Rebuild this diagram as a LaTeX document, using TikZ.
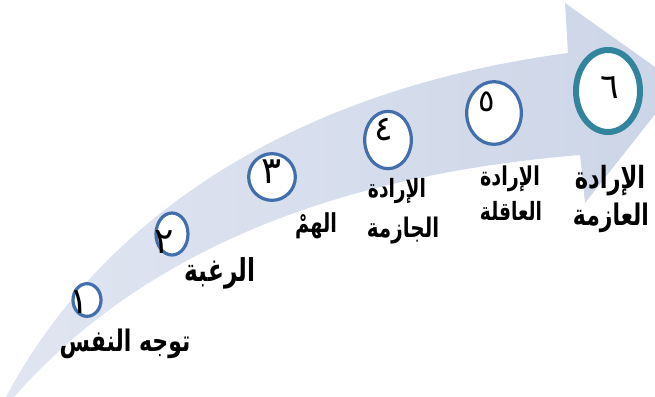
\documentclass[tikz,border=0pt]{standalone}
\usepackage{fontspec}
\usetikzlibrary{shapes.geometric}
\TeXXeTstate=1
\newfontfamily\arabicfont[Script=Arabic]{DejaVu Sans}
\newcommand\arword[1]{\scalebox{1}[1.35]{\beginR #1\endR}}
\definecolor{stepblue}{RGB}{66,110,172}
\definecolor{tealsix}{RGB}{49,132,155}
\definecolor{bandl}{RGB}{224,229,241}
\definecolor{bandr}{RGB}{204,213,231}
\begin{document}
\begin{tikzpicture}[x=0.75pt,y=-0.75pt,
  stepc/.style={ellipse, draw=stepblue, line width=2.4pt, fill=white, inner sep=0pt},
  lastc/.style={ellipse, draw=tealsix, line width=4.5pt, fill=white, inner sep=0pt},
  digit/.style={font=\arabicfont\fontsize{#1}{#1}\selectfont, inner sep=0pt},
  lbl/.style={font=\arabicfont\bfseries\fontsize{#1}{#1}\selectfont, inner sep=0pt}]
\useasboundingbox (0,0) rectangle (655,396);
\begin{scope}
\clip (0,0) rectangle (655,396);
\path[left color=bandl, right color=bandr]
  (6,397) .. controls (100,220) and (290,90) .. (568,53)
  -- (565,3) -- (679,84) -- (585,203) -- (580,155)
  .. controls (400,170) and (170,220) .. (14,397) -- cycle;
\end{scope}
% circles
\node[stepc, minimum width=21pt, minimum height=24.5pt] (c1) at (87,300) {};
\node[stepc, minimum width=24pt, minimum height=31.5pt] (c2) at (172,234) {};
\node[stepc, minimum width=35pt, minimum height=35pt] (c3) at (272,177) {};
\node[stepc, minimum width=35pt, minimum height=43pt] (c4) at (388,140) {};
\node[stepc, minimum width=41pt, minimum height=47pt] (c5) at (494,113) {};
\node[lastc, minimum width=48pt, minimum height=61.5pt] (c6) at (608,91) {};
% digits
\node[digit=27] (d1) at (79,302) {\beginR ١\endR};
\node[digit=27] (d2) at (164,242) {\beginR ٢\endR};
\node[digit=28] (d3) at (272,172) {\beginR ٣\endR};
\node[digit=26] (d4) at (384,130) {\beginR ٤\endR};
\node[digit=23] (d5) at (487,102) {\beginR ٥\endR};
\node[digit=26] (d6) at (610,87) {\beginR ٦\endR};
% labels
\node[lbl=16.5] (l1) at (125,344) {\arword{توجه النفس}};
\node[lbl=17.5] (l2) at (220,273) {\arword{الرغبة}};
\node[lbl=14.5] (l3) at (316,226) {\arword{الهمْ}};
\node[lbl=14] (l4a) at (397,191) {\arword{الإرادة}};
\node[lbl=15] (l4b) at (403,231) {\arword{الجازمة}};
\node[lbl=14.4] (l5a) at (510,179) {\arword{الإرادة}};
\node[lbl=14] (l5b) at (511,211) {\arword{العاقلة}};
\node[lbl=17] (l6a) at (610,181) {\arword{الإرادة}};
\node[lbl=16.5] (l6b) at (611,218) {\arword{العازمة}};
\end{tikzpicture}
\end{document}
